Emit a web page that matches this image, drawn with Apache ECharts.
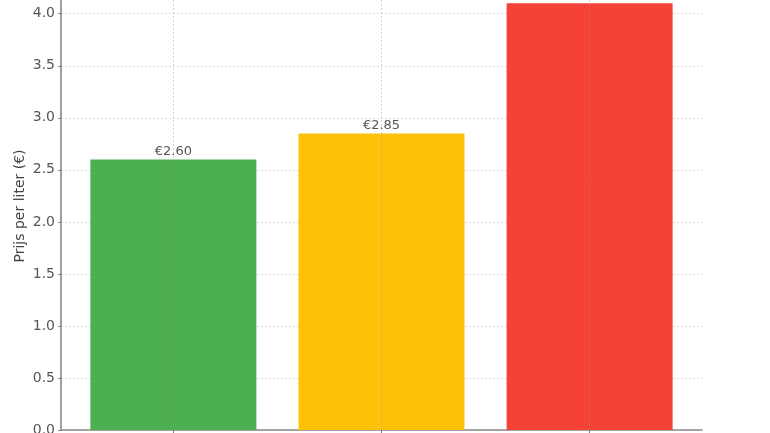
<!DOCTYPE html>
<html><head><meta charset="utf-8">
<script src="https://cdn.jsdelivr.net/npm/echarts@6/dist/echarts.min.js"></script>
<style>html,body{margin:0;padding:0;background:#fff}#c{width:770px;height:433px}</style>
</head><body><div id="c"></div>
<script>
const categories = ["Groen", "Geel", "Rood"];
const prices = [2.60, 2.85, 4.10];
const barColors = ["#4CAF50", "#FFC107", "#F44336"];
const yTicks = [0, 0.5, 1.0, 1.5, 2.0, 2.5, 3.0, 3.5, 4.0];
const yName = "Prijs per liter (€)";

const chart = echarts.init(document.getElementById('c'), null, {renderer: 'canvas'});
const font = "DejaVu Sans";
chart.setOption({
  animation: false,
  grid: {left: 61, right: 68, top: -18, bottom: 3, containLabel: false, outerBoundsMode: 'none'},
  xAxis: {
    type: 'value', min: -0.54, max: 2.54,
    axisLine: {show: true, onZero: false, lineStyle: {color: '#888', width: 1.6}},
    axisTick: {show: true, customValues: [0, 1, 2], length: 4, lineStyle: {color: '#777'}},
    axisLabel: {show: true, customValues: [0, 1, 2], formatter: v => categories[Math.round(v)] || '', fontFamily: font, fontSize: 14, color: '#444'},
    splitLine: {show: false}
  },
  yAxis: {
    type: 'value', min: 0, max: 4.305, interval: 0.5,
    name: yName, nameLocation: 'middle', nameGap: 34, nameMoveOverlap: false,
    nameTextStyle: {fontFamily: font, fontSize: 14, color: '#444'},
    axisLine: {show: true, onZero: false, lineStyle: {color: '#888', width: 1.6}},
    axisTick: {show: true, length: 3, lineStyle: {color: '#888'}},
    axisLabel: {fontFamily: font, fontSize: 14, color: '#555', margin: 6,
      formatter: v => yTicks.some(t => Math.abs(t - v) < 1e-6) ? v.toFixed(1) : ''},
    splitLine: {show: true, lineStyle: {color: '#dcdcdc', type: [2, 2], width: 1}}
  },
  series: [{
    type: 'bar',
    barWidth: 166,
    data: prices.map((p, i) => ({value: [i, p], name: categories[i], itemStyle: {color: barColors[i]}})),
    label: {show: true, position: 'top', distance: 1, fontFamily: font, fontSize: 13, color: '#555',
      formatter: p => '€' + p.value[1].toFixed(2)},
    markLine: {
      silent: true, symbol: 'none', label: {show: false},
      lineStyle: {color: 'rgba(150,150,150,0.4)', type: [2, 2], width: 1},
      data: categories.map((c, i) => ({xAxis: i}))
    },
    z: 2
  }]
});
</script></body></html>
